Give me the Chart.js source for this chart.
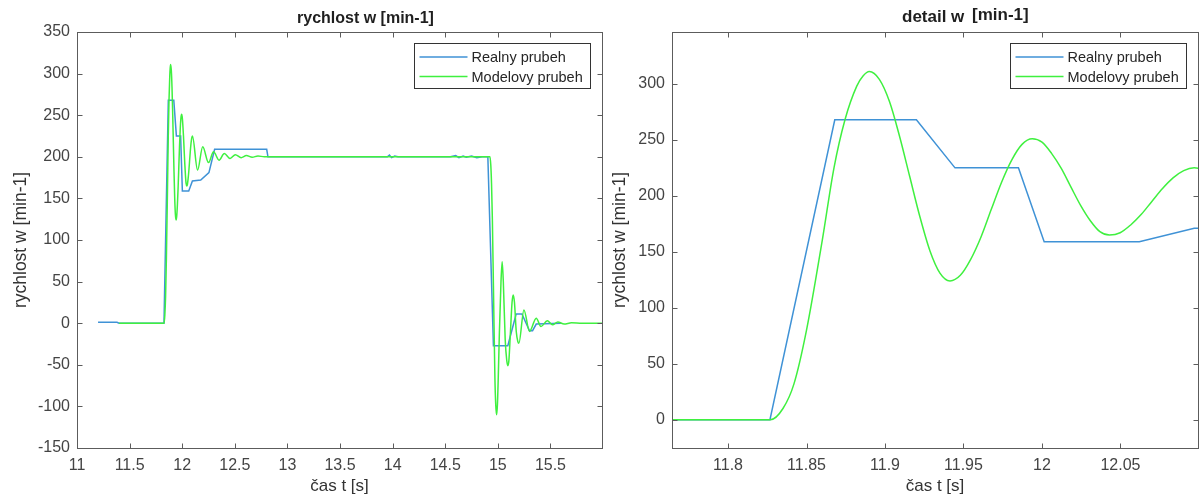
<!DOCTYPE html>
<html>
<head>
<meta charset="utf-8">
<script src="https://cdn.jsdelivr.net/npm/chart.js@4/dist/chart.umd.min.js"></script>
<style>
  body { margin: 0; background: #fff; }
  canvas { position: absolute; top: 0; }
</style>
</head>
<body>
<canvas id="full" width="620" height="504" style="left:0"></canvas>
<canvas id="detail" width="601" height="504" style="left:600px"></canvas>
<script>
// measured speed (blue) - piecewise samples
var tReal = [11.2, 11.38, 11.40, 11.8267, 11.868, 11.920, 11.9446, 11.985, 12.0014, 12.062, 12.097,
    12.176, 12.254, 12.308, 12.803, 12.815, 13.95, 13.97, 13.99, 14.02, 14.05, 14.55, 14.60, 14.63,
    14.67, 14.70, 14.75, 14.80, 14.85, 14.905, 14.958, 15.095, 15.174, 15.229, 15.301, 15.33, 15.365, 15.60];
var wReal = [1, 1, 0, 0, 268, 268, 225, 225, 159, 159, 171,
    172, 181, 209, 209, 200, 200, 202, 199, 201, 200, 200, 201.5, 199,
    201, 199.5, 201, 199, 200, 200, -27, -27, 11, 11, -9, -9, -1, 0];

// model speed (green)
var tModel = [11.4, 11.82, 11.827, 11.835, 11.842, 11.85, 11.86, 11.8675, 11.8745, 11.882, 11.886, 11.890,
    11.8964, 11.9029, 11.9093, 11.9157, 11.9221, 11.9286, 11.9350, 11.9414,
    11.9480, 11.9545, 11.9611, 11.9676, 11.9742, 11.9807, 11.9873, 11.9938,
    12.0000, 12.0061, 12.0123, 12.0184, 12.0246, 12.0307, 12.0369, 12.043,
    12.0498, 12.0565, 12.0633, 12.070, 12.0768, 12.0835, 12.0903, 12.097,
    12.146, 12.195, 12.25, 12.298, 12.35, 12.40, 12.455, 12.505, 12.56, 12.61, 12.665, 12.72, 12.78,
    14.925, 14.933, 14.94, 14.948, 14.958, 14.972, 14.98, 14.988, 14.996, 15.004, 15.015, 15.03,
    15.041, 15.052, 15.07, 15.085, 15.095, 15.105, 15.12, 15.135, 15.146, 15.158, 15.175, 15.19,
    15.2, 15.248, 15.301, 15.365, 15.41, 15.47, 15.52, 15.57, 15.63, 15.7, 15.8, 15.99];
var wModel = [0, 0, 0, 10, 32, 80, 160, 225, 268, 298, 307, 311,
    304, 284, 253, 217.5, 182, 151, 131, 124,
    129, 143, 163, 187.5, 212, 232, 246, 251,
    248, 238, 224.5, 208, 191.5, 178, 168, 165,
    167, 174, 183.5, 195, 206.5, 216, 222.5, 225,
    184, 212, 193, 206, 196, 204, 198, 202.5, 199, 201.5, 199.5, 201, 200,
    200, 190, 168, 125, 45, -65, -98, -110, -98, -65, -10, 50,
    74, 50, -20, -45, -51, -45, -10, 25, 34, 25, -10, -22,
    -24, 16, -10, 6, -4, 3, -2, 1.5, -1, 0.5, 0, 0];

var fullXTicks = [11, 11.5, 12, 12.5, 13, 13.5, 14, 14.5, 15, 15.5];
var fullYTicks = [-150, -100, -50, 0, 50, 100, 150, 200, 250, 300, 350];
var detailXTicks = [11.8, 11.85, 11.9, 11.95, 12, 12.05];
var detailYTicks = [0, 50, 100, 150, 200, 250, 300];

var FONT = '"Liberation Sans", Arial, Helvetica, sans-serif';
var BLUE = '#3f92d6';
var GREEN = '#3ff03f';

function pts(t, w) {
    return t.map(function (x, i) { return { x: x, y: w[i] }; });
}

// box around the axes with inward ticks on all four sides
var axesBox = {
    id: 'axesBox',
    afterDatasetsDraw: function (chart) {
        var ctx = chart.ctx, a = chart.chartArea;
        var xs = chart.scales.x, ys = chart.scales.y;
        var L = Math.round(a.left) + 0.5, R = Math.round(a.right) + 0.5;
        var T = Math.round(a.top) + 0.5, B = Math.round(a.bottom) + 0.5;
        ctx.save();
        ctx.strokeStyle = '#5c5c5c';
        ctx.lineWidth = 1;
        ctx.strokeRect(L, T, R - L, B - T);
        ctx.beginPath();
        xs.ticks.forEach(function (tk) {
            var p = Math.round(xs.getPixelForValue(tk.value)) + 0.5;
            ctx.moveTo(p, B); ctx.lineTo(p, B - 5);
            ctx.moveTo(p, T); ctx.lineTo(p, T + 5);
        });
        ys.ticks.forEach(function (tk) {
            var p = Math.round(ys.getPixelForValue(tk.value)) + 0.5;
            ctx.moveTo(L, p); ctx.lineTo(L + 5, p);
            ctx.moveTo(R, p); ctx.lineTo(R - 5, p);
        });
        ctx.stroke();
        ctx.restore();
    }
};

// boxed legend in the upper right corner of the plot
var boxLegend = {
    id: 'boxLegend',
    afterDraw: function (chart) {
        var ctx = chart.ctx, a = chart.chartArea;
        var w = 176, h = 45;
        var x0 = Math.round(a.right) - 12 - w + 0.5, y0 = Math.round(a.top) + 11 + 0.5;
        ctx.save();
        ctx.fillStyle = '#fff';
        ctx.fillRect(x0, y0, w, h);
        ctx.strokeStyle = '#333';
        ctx.lineWidth = 1;
        ctx.strokeRect(x0, y0, w, h);
        ctx.font = '14.5px ' + FONT;
        ctx.textBaseline = 'middle';
        ctx.textAlign = 'left';
        chart.data.datasets.forEach(function (ds, i) {
            var yy = y0 + 13.5 + i * 19.5;
            ctx.strokeStyle = ds.borderColor;
            ctx.lineWidth = 1.5;
            ctx.beginPath();
            ctx.moveTo(x0 + 5, yy); ctx.lineTo(x0 + 53, yy);
            ctx.stroke();
            ctx.fillStyle = '#262626';
            ctx.fillText(ds.label, x0 + 57, yy + 1);
        });
        ctx.restore();
    }
};

// bold title, possibly in several pieces
var plotTitle = {
    id: 'plotTitle',
    afterDraw: function (chart, args, opts) {
        var ctx = chart.ctx;
        ctx.save();
        ctx.fillStyle = '#1f1f1f';
        ctx.textAlign = 'left';
        ctx.textBaseline = 'alphabetic';
        opts.parts.forEach(function (p) {
            ctx.font = 'bold ' + p.size + 'px ' + FONT;
            ctx.fillText(p.text, p.x, p.y);
        });
        ctx.restore();
    }
};

function makeChart(id, o) {
    return new Chart(document.getElementById(id), {
        type: 'line',
        data: {
            datasets: [{
                label: 'Realny prubeh',
                data: pts(tReal, wReal),
                borderColor: BLUE,
                borderWidth: 1.5,
                pointRadius: 0,
                order: 2
            }, {
                label: 'Modelovy prubeh',
                data: pts(tModel, wModel),
                borderColor: GREEN,
                borderWidth: 1.5,
                pointRadius: 0,
                cubicInterpolationMode: 'monotone',
                order: 1
            }]
        },
        options: {
            responsive: false,
            animation: false,
            devicePixelRatio: 1,
            layout: { padding: { left: 0, right: o.padRight, top: 32, bottom: 0 } },
            plugins: {
                legend: { display: false },
                tooltip: { enabled: false },
                plotTitle: { parts: o.title }
            },
            scales: {
                x: {
                    type: 'linear',
                    min: o.xMin, max: o.xMax,
                    grid: { display: false, drawTicks: false },
                    border: { display: false },
                    afterBuildTicks: function (s) { s.ticks = o.xTicks.map(function (v) { return { value: v }; }); },
                    afterFit: function (s) { s.height = 56; },
                    ticks: {
                        padding: 8, color: '#444', autoSkip: false, maxRotation: 0,
                        font: { family: FONT, size: 16 },
                        callback: function (v) { return String(v); }
                    },
                    title: {
                        display: true, text: 'čas t [s]', color: '#333',
                        font: { family: FONT, size: 17 },
                        padding: { top: 0, bottom: 7 }
                    }
                },
                y: {
                    type: 'linear',
                    min: o.yMin, max: o.yMax,
                    grid: { display: false, drawTicks: false },
                    border: { display: false },
                    afterBuildTicks: function (s) { s.ticks = o.yTicks.map(function (v) { return { value: v }; }); },
                    afterFit: function (s) { s.width = o.yWidth; },
                    ticks: {
                        padding: 7, color: '#444', autoSkip: false,
                        font: { family: FONT, size: 16 },
                        callback: function (v) { return String(v); }
                    },
                    title: {
                        display: true, text: 'rychlost w [min-1]', color: '#333',
                        font: { family: FONT, size: 17.5 },
                        padding: { top: o.yTitlePad, bottom: 0 }
                    }
                }
            }
        },
        plugins: [axesBox, boxLegend, plotTitle]
    });
}

makeChart('full', {
    xMin: 11, xMax: 15.99, yMin: -150, yMax: 350,
    xTicks: fullXTicks, yTicks: fullYTicks,
    yWidth: 77, padRight: 18, yTitlePad: 11,
    title: [{ text: 'rychlost w [min-1]', x: 297, y: 23, size: 16 }]
});

makeChart('detail', {
    xMin: 11.7643, xMax: 12.0994, yMin: -25.3, yMax: 346.4,
    xTicks: detailXTicks, yTicks: detailYTicks,
    yWidth: 72, padRight: 3, yTitlePad: 10,
    title: [{ text: 'detail w', x: 302, y: 22, size: 17 }, { text: '[min-1]', x: 372, y: 20, size: 17 }]
});
</script>
</body>
</html>
